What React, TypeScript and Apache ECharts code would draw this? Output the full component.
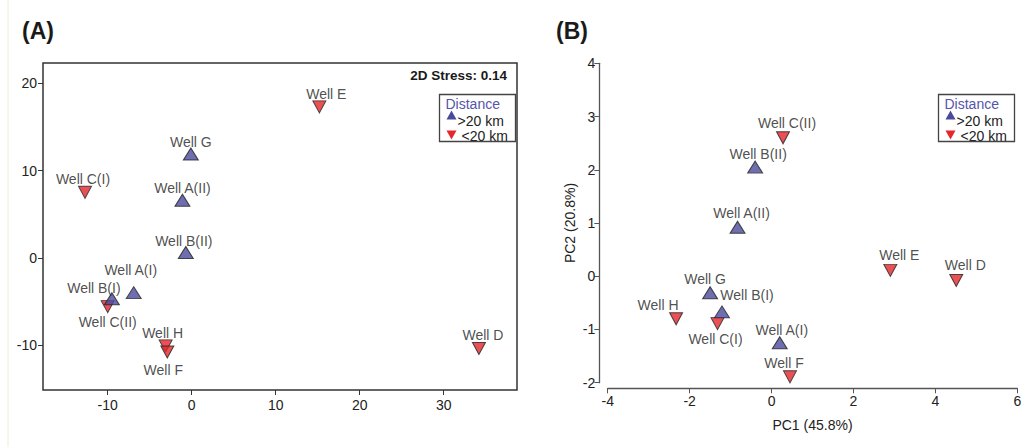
import React, { useEffect, useRef } from "react";
import * as echarts from "echarts";

// ---- Data ----
const wells = ["Well E", "Well G", "Well C(I)", "Well A(II)", "Well B(II)", "Well A(I)", "Well B(I)", "Well C(II)", "Well H", "Well F", "Well D"];
// distance group: true = >20 km (blue, up), false = <20 km (red, down)
const farGroup = [false, true, false, true, true, true, true, false, false, false, false];
// Panel A: NMDS coordinates
const nmdsX = [15.2, -0.1, -12.7, -1.1, -0.7, -6.9, -9.5, -10.0, -3.1, -2.9, 34.2];
const nmdsY = [17.3, 11.9, 7.5, 6.6, 0.6, -4.0, -4.7, -5.6, -10.1, -10.8, -10.4];
// Panel B: PCA coordinates
const pcaX = [2.9, -1.5, -1.32, -0.83, -0.4, 0.2, -1.21, 0.28, -2.33, 0.45, 4.51];
const pcaY = [0.11, -0.31, -0.89, 0.92, 2.05, -1.25, -0.67, 2.6, -0.8, -1.89, -0.08];
const nmdsXTicks = [-10, 0, 10, 20, 30];
const nmdsYTicks = [-10, 0, 10, 20];
const legendItems = [">20 km", "<20 km"];
const stressText = "2D Stress: 0.14";
const pcaXName = "PC1 (45.8%)";
const pcaYName = "PC2 (20.8%)";

// ---- Label placement (pixel offsets from marker centre) ----
const offsetsA: Record<string, number[]> = {
  "Well E": [7, -13], "Well G": [0, -12], "Well C(I)": [-2, -13], "Well A(II)": [0, -12],
  "Well B(II)": [-2, -12], "Well A(I)": [-3, -23], "Well B(I)": [-18, -11], "Well C(II)": [0, 15],
  "Well H": [-3, -13], "Well F": [-4, 18], "Well D": [4, -13],
};
const offsetsB: Record<string, number[]> = {
  "Well E": [9, -15], "Well G": [-5, -14], "Well C(I)": [-2, 15], "Well A(II)": [4, -14],
  "Well B(II)": [3, -13], "Well A(I)": [2, -13], "Well B(I)": [25, -17], "Well C(II)": [4, -15],
  "Well H": [-18, -14], "Well F": [-6, -14], "Well D": [9, -15],
};

const BLUE = "#4a4a9c";
const RED = "#e5262b";
const TXT = "#222";
const FONT = "Liberation Sans, Arial, sans-serif";

function buildSeries(xs: number[], ys: number[], offsets: Record<string, number[]>, gi: number) {
  const mk = (far: boolean) => ({
    type: "scatter",
    xAxisIndex: gi,
    yAxisIndex: gi,
    symbol: "triangle",
    symbolSize: far ? [15, 12] : [13, 12],
    symbolRotate: far ? 0 : 180,
    clip: false,
    itemStyle: { color: far ? BLUE : RED, borderColor: "#222", borderWidth: 1 },
    data: wells
      .map((n, i) => ({ n, i }))
      .filter(({ i }) => farGroup[i] === far)
      .map(({ n, i }) => ({
        name: n,
        value: [xs[i], ys[i]],
        label: {
          show: true,
          formatter: n,
          position: "inside",
          offset: offsets[n],
          color: TXT,
          fontSize: 14,
          fontFamily: FONT,
        },
      })),
    z: far ? 3 : 2,
  });
  return [mk(true), mk(false)];
}

function legendGraphic(left: number, top: number) {
  return {
    type: "group",
    left,
    top,
    children: [
      { type: "text", x: 6, y: 2, style: { text: "Distance", fill: "#5555aa", fontSize: 14, fontFamily: FONT } },
      { type: "polygon", shape: { points: [[7, 25], [12, 16], [17, 25]] }, style: { fill: BLUE } },
      { type: "text", x: 18, y: 19, style: { text: legendItems[0], fill: TXT, fontSize: 14, fontFamily: FONT } },
      { type: "polygon", shape: { points: [[7, 36], [17, 36], [12, 45]] }, style: { fill: RED } },
      { type: "text", x: 22, y: 34, style: { text: legendItems[1], fill: TXT, fontSize: 14, fontFamily: FONT } },
      { type: "rect", shape: { x: 0, y: 0, width: 76, height: 47 }, style: { fill: "none", stroke: "#444", lineWidth: 1.3 } },
    ],
  };
}

export default function App() {
  const ref = useRef<HTMLDivElement>(null);
  useEffect(() => {
    if (!ref.current) return;
    const chart = echarts.init(ref.current, undefined, { renderer: "svg" });
    const axisLabel = { color: TXT, fontSize: 14, fontFamily: FONT };
    chart.setOption({
      animation: false,
      backgroundColor: "#fff",
      grid: [
        { left: 43, right: 509, top: 63, bottom: 57, show: true, borderColor: "#333", borderWidth: 1.5, backgroundColor: "transparent" },
        { left: 607.7, right: 8.7, top: 63.3, bottom: 64.3 },
      ],
      xAxis: [
        {
          gridIndex: 0, type: "value", min: -17.7, max: 38.73,
          axisLine: { show: false, onZero: false }, splitLine: { show: false },
          axisTick: { show: true, length: 5, customValues: nmdsXTicks, lineStyle: { color: "#333" } },
          axisLabel: { ...axisLabel, customValues: nmdsXTicks, margin: 8 },
        },
        {
          gridIndex: 1, type: "value", min: -4, max: 6, interval: 2, offset: 5.6,
          name: pcaXName, nameLocation: "middle", nameGap: 30,
          nameTextStyle: { color: TXT, fontSize: 14, fontFamily: FONT },
          axisLine: { show: true, onZero: false, lineStyle: { color: "#555", width: 1.3 } }, splitLine: { show: false },
          axisTick: { show: true, length: 5, lineStyle: { color: "#555" } },
          axisLabel: { ...axisLabel, margin: 6 },
        },
      ],
      yAxis: [
        {
          gridIndex: 0, type: "value", min: -15.16, max: 22.33,
          axisLine: { show: false, onZero: false }, splitLine: { show: false },
          axisTick: { show: true, length: 5, customValues: nmdsYTicks, lineStyle: { color: "#333" } },
          axisLabel: { ...axisLabel, customValues: nmdsYTicks, margin: 6 },
        },
        {
          gridIndex: 1, type: "value", min: -2, max: 4, interval: 1, offset: 8.4,
          name: pcaYName, nameLocation: "middle", nameGap: 22, nameRotate: 90,
          nameTextStyle: { color: TXT, fontSize: 14, fontFamily: FONT },
          axisLine: { show: true, onZero: false, lineStyle: { color: "#555", width: 1.3 } }, splitLine: { show: false },
          axisTick: { show: true, length: 5, lineStyle: { color: "#555" } },
          axisLabel: { ...axisLabel, margin: 4 },
        },
      ],
      series: [
        ...buildSeries(nmdsX, nmdsY, offsetsA, 0),
        ...buildSeries(pcaX, pcaY, offsetsB, 1),
      ],
      graphic: [
        { type: "line", shape: { x1: 8, y1: 0, x2: 8, y2: 447 }, style: { stroke: "#ecebdc", lineWidth: 1 } },
        { type: "text", left: 22, top: 19, style: { text: "(A)", fill: "#1a1a1a", fontSize: 23, fontWeight: "bold", fontFamily: FONT } },
        { type: "text", left: 556, top: 19, style: { text: "(B)", fill: "#1a1a1a", fontSize: 23, fontWeight: "bold", fontFamily: FONT } },
        { type: "text", right: 519, top: 68, style: { text: stressText, fill: "#1a1a1a", fontSize: 13.5, fontWeight: "bold", fontFamily: FONT } },
        legendGraphic(437, 92),
        legendGraphic(936, 92),
      ],
    });
    return () => chart.dispose();
  }, []);
  return <div ref={ref} style={{ position: "fixed", left: 0, top: 0, width: 1026, height: 447 }} />;
}
